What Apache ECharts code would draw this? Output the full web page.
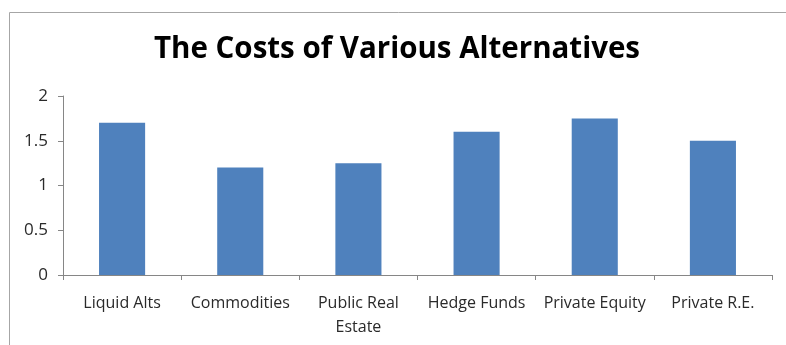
<!DOCTYPE html>
<html><head><meta charset="utf-8">
<script src="https://cdn.jsdelivr.net/npm/echarts@6/dist/echarts.min.js"></script>
<style>html,body{margin:0;padding:0;background:#fff}#c{width:786px;height:345px}</style>
</head><body><div id="c"></div>
<script>
var categories = ['Liquid Alts', 'Commodities', 'Public Real\nEstate', 'Hedge Funds', 'Private Equity', 'Private R.E.'];
var costs = [1.7, 1.2, 1.25, 1.6, 1.75, 1.5];
var yTicks = [0, 0.5, 1, 1.5, 2];

var chart = echarts.init(document.getElementById('c'), null, {renderer: 'canvas'});
chart.setOption({
  backgroundColor: '#fff',
  animation: false,
  graphic: [{
    type: 'rect', silent: true, z: -1,
    shape: {x: 9.5, y: 12.5, width: 900, height: 500},
    style: {fill: 'none', stroke: '#a6a6a6', lineWidth: 1}
  }],
  title: {
    text: 'The Costs of Various Alternatives',
    left: 149, top: 30,
    textStyle: {fontFamily: 'Open Sans', fontWeight: 'bold', fontSize: 29.5, color: '#000'}
  },
  grid: {left: 63, right: 14, top: 96, bottom: 70},
  xAxis: {
    type: 'category', data: categories,
    axisLine: {lineStyle: {color: '#868686'}},
    axisTick: {show: true, alignWithLabel: false, length: 5, lineStyle: {color: '#868686'}},
    axisLabel: {color: '#2a2a2a', fontFamily: 'Open Sans', fontSize: 16, margin: 16, lineHeight: 24, interval: 0}
  },
  yAxis: {
    type: 'value', min: 0, max: 2, interval: 0.5,
    axisLine: {show: true, lineStyle: {color: '#868686'}},
    axisTick: {show: true, length: 5, lineStyle: {color: '#868686'}},
    splitLine: {show: false},
    axisLabel: {color: '#2a2a2a', fontFamily: 'Open Sans', fontSize: 17, margin: 15,
      formatter: function (v) { return yTicks.indexOf(v) >= 0 ? String(v) : ''; }}
  },
  series: [{
    type: 'bar', data: costs, barWidth: '39%',
    itemStyle: {color: '#4f81bd'}
  }]
});
</script></body></html>
